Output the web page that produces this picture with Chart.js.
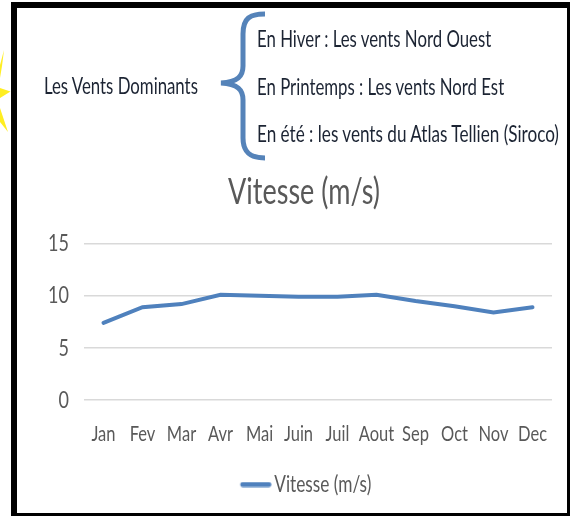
<!DOCTYPE html>
<html><head><meta charset="utf-8">
<script src="https://cdn.jsdelivr.net/npm/chart.js@4"></script>
<style>
html,body{margin:0;padding:0;background:#fff;width:570px;height:516px;overflow:hidden}
#frame{position:absolute;left:11px;top:2px;width:556px;height:511px;box-sizing:border-box;border-left:6px solid #000;border-top:6px solid #000;border-bottom:0;}
#fr{position:absolute;left:567px;top:2px;width:3px;height:514px;background:#000}
#fb{position:absolute;left:11px;top:513px;width:559px;height:3px;background:#000}
.t{position:absolute;font-family:Lato,sans-serif;font-size:23px;color:#1c2433;white-space:nowrap;line-height:24px;transform-origin:0 50%;transform:scaleX(0.73)}
canvas{position:absolute;left:0;top:0}
svg{position:absolute;left:0;top:0}
</style></head><body>
<canvas id="c" width="570" height="516"></canvas>
<svg width="570" height="516">
<path d="M265 14 C250 14 243 18 243 34 L243 66 C243 76 238 82 221 83 C238 84 243 90 243 100 L243 138 C243 152 250 158 265 158" fill="none" stroke="#5583b9" stroke-width="5"/>
<path d="M0 88 L10.5 91.5 L0 98 Z M0 65 L4 50 L2 66 L0 78 Z M0 108 L8 132 L0 122 Z" fill="#ffee22"/>
</svg>
<div id="frame"></div><div id="fr"></div><div id="fb"></div>
<div class="t" style="left:44px;top:73px">Les Vents Dominants</div>
<div class="t" style="left:257px;top:26px">En Hiver : Les vents Nord Ouest</div>
<div class="t" style="left:257px;top:74px">En Printemps : Les vents Nord Est</div>
<div class="t" style="left:257px;top:121px;transform:scaleX(0.745)">En été : les vents du Atlas Tellien (Siroco)</div>
<script>
const months=["Jan","Fev","Mar","Avr","Mai","Juin","Juil","Aout","Sep","Oct","Nov","Dec"];
const speed=[7.4,8.9,9.2,10.1,10,9.9,9.9,10.1,9.5,9,8.4,8.9];
const yTicks=[0,5,10,15];
const seriesName="Vitesse (m/s)";
const fam='Lato,sans-serif';
const squeeze=0.75;
const canvas=document.getElementById('c');
const ctx=canvas.getContext('2d');
const rawFill=ctx.fillText.bind(ctx), rawMeasure=ctx.measureText.bind(ctx);
ctx.fillText=function(s,x,y,m){ctx.save();ctx.translate(x,y);ctx.scale(squeeze,1);rawFill(s,0,0);ctx.restore();};
ctx.measureText=function(s){return {width:rawMeasure(s).width*squeeze};};
const swatch=document.createElement('canvas');swatch.width=44;swatch.height=6;
const sw=swatch.getContext('2d');sw.strokeStyle='#4f81bd';sw.lineWidth=5;sw.lineCap='round';sw.beginPath();sw.moveTo(15,3);sw.lineTo(41,3);sw.stroke();
new Chart(canvas,{
 type:'line',
 data:{labels:months,datasets:[{label:seriesName,data:speed,borderColor:'#4f81bd',backgroundColor:'#4f81bd',borderWidth:4,pointRadius:0,tension:0,borderCapStyle:'round'}]},
 plugins:[{id:'widenYLabels',afterLayout(chart){chart.scales.y.left=0;}}],
 options:{responsive:false,animation:false,
  layout:{padding:{left:56,right:18,top:171,bottom:10}},
  plugins:{
   title:{display:true,text:seriesName,color:'#595959',font:{family:fam,size:36,weight:'normal'},padding:{top:0,bottom:29.4}},
   legend:{position:'bottom',labels:{usePointStyle:true,pointStyle:swatch,pointStyleWidth:26,padding:10,color:'#595959',font:{family:fam,size:23}}},
   tooltip:{enabled:false}},
  scales:{
   x:{offset:true,grid:{display:false},border:{display:false},ticks:{color:'#595959',font:{family:fam,size:22},maxRotation:0,autoSkip:false,padding:13},afterFit(s){s.height=63;}},
   y:{min:0,max:15,grid:{color:'#d9d9d9',lineWidth:1.5,drawTicks:false},border:{display:false},
      ticks:{stepSize:5,color:'#595959',font:{family:fam,size:24},padding:15,callback:v=>yTicks.includes(v)?v:''},afterFit(s){s.width=28;}}
  }}
});
</script>
</body></html>
